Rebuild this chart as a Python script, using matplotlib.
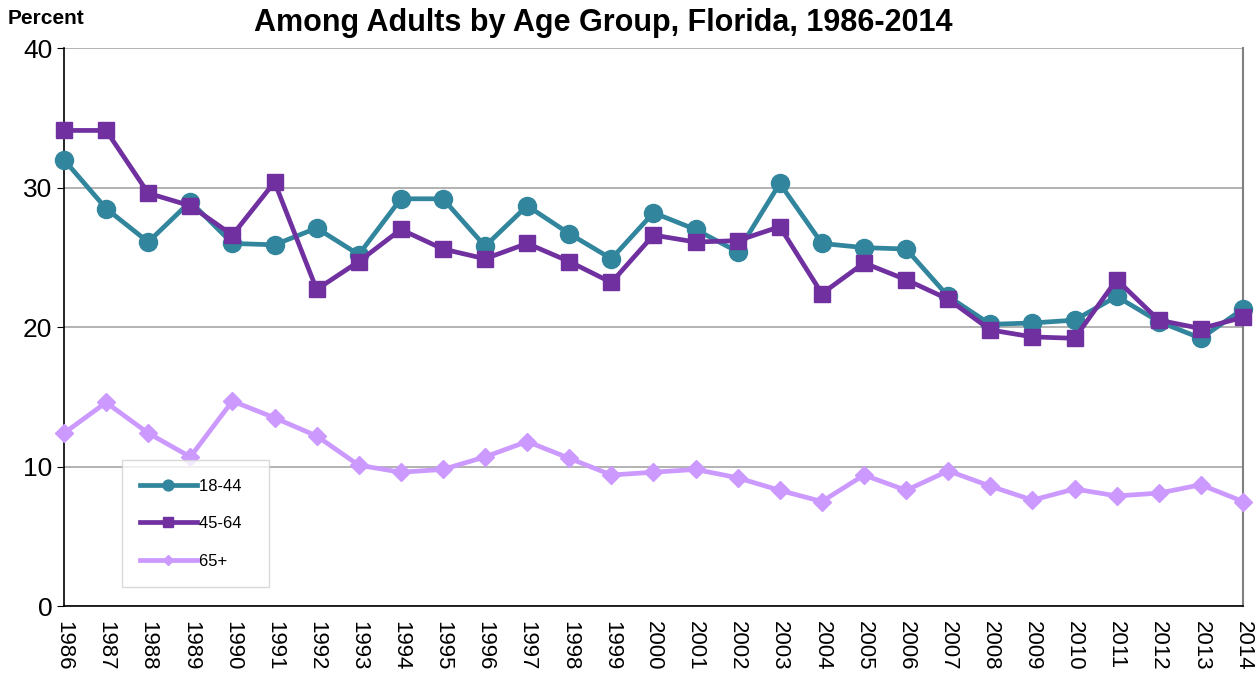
import numpy as np
import matplotlib.pyplot as plt

plt.rcParams['font.family'] = ['Liberation Sans', 'DejaVu Sans']

years = list(range(1986, 2015))
age_18_44 = [32.0, 28.5, 26.1, 29.0, 26.0, 25.9, 27.1, 25.2, 29.2, 29.2,
             25.8, 28.7, 26.7, 24.9, 28.2, 27.0, 25.4, 30.3, 26.0, 25.7,
             25.6, 22.2, 20.2, 20.3, 20.5, 22.2, 20.4, 19.2, 21.3]
age_45_64 = [34.1, 34.1, 29.6, 28.7, 26.6, 30.4, 22.7, 24.7, 27.0, 25.6,
             24.9, 26.0, 24.7, 23.2, 26.6, 26.1, 26.2, 27.2, 22.4, 24.6,
             23.4, 22.0, 19.8, 19.3, 19.2, 23.4, 20.5, 19.9, 20.7]
age_65 = [12.4, 14.6, 12.4, 10.7, 14.7, 13.5, 12.2, 10.1, 9.6, 9.8,
          10.7, 11.8, 10.6, 9.4, 9.6, 9.8, 9.2, 8.3, 7.5, 9.4,
          8.3, 9.7, 8.6, 7.6, 8.4, 7.9, 8.1, 8.7, 7.5]
labels = ['18-44', '45-64', '65+']

fig = plt.figure(figsize=(12.6, 6.78), dpi=100)
ax = fig.add_axes([0.0508, 0.106, 0.9357, 0.823])

x = np.arange(len(years))
ax.plot(x, age_18_44, color='#31859C', lw=3.4, marker='o', ms=13, label=labels[0],
        zorder=3, clip_on=False)
ax.plot(x, age_45_64, color='#7030A0', lw=3.4, marker='s', ms=11.5, label=labels[1],
        zorder=4, clip_on=False)
ax.plot(x, age_65, color='#CC99FF', lw=3.4, marker='D', ms=9, label=labels[2],
        zorder=3, clip_on=False)

ax.set_xlim(0, len(years) - 1)
ax.set_ylim(0, 40)
ax.set_yticks([0, 10, 20, 30, 40])
ax.set_xticks(x)
ax.set_xticklabels([str(y) for y in years], rotation=270, fontsize=16)
ax.tick_params(axis='y', labelsize=19, length=5, direction='out', color='black')
ax.tick_params(axis='x', length=0, pad=11)
ax.yaxis.grid(True, color='#A6A6A6', lw=1.2)
ax.set_axisbelow(True)

for s in ['left', 'bottom']:
    ax.spines[s].set_color('black')
    ax.spines[s].set_linewidth(1.2)
ax.spines['top'].set_visible(False)
ax.spines['right'].set_color('#808080')
ax.spines['right'].set_linewidth(1.5)

leg = ax.legend(loc='lower left', bbox_to_anchor=(0.049, 0.034), fontsize=12,
                markerscale=0.6, handlelength=3.4, labelspacing=1.35,
                borderpad=1.1, handletextpad=0.15, fancybox=False,
                frameon=True, borderaxespad=0)
for t in leg.get_texts():
    t.set_text(t.get_text() + '  ')
leg.get_frame().set_edgecolor('#D0D0D0')
leg.get_frame().set_linewidth(1)

fig.text(0.006, 0.965, 'Percent', fontsize=15, fontweight='bold')
fig.text(0.479, 0.955, 'Among Adults by Age Group, Florida, 1986-2014',
         fontsize=22, fontweight='bold', ha='center')

fig.savefig('out.png', dpi=100)
